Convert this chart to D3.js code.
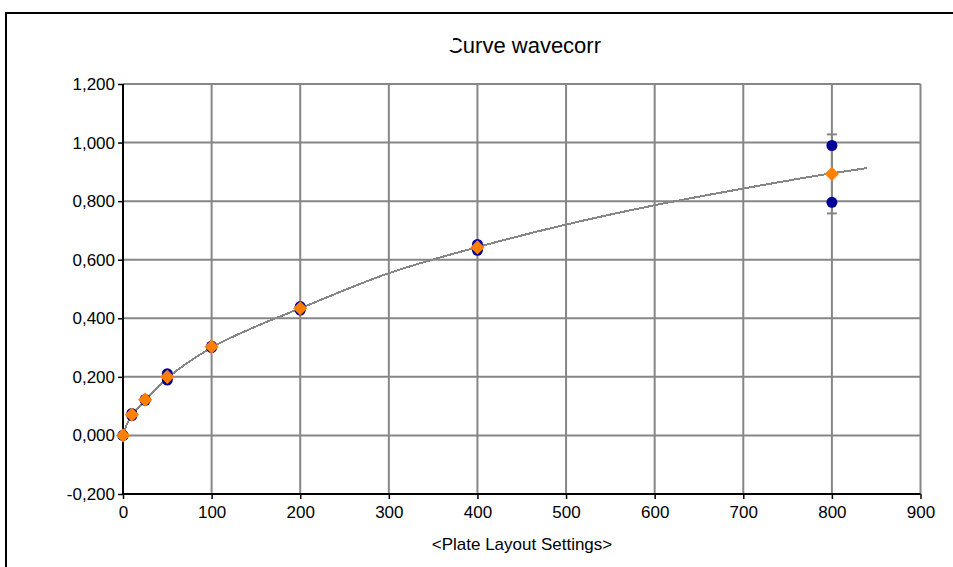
<!DOCTYPE html>
<html>
<head>
<meta charset="utf-8">
<script src="https://cdn.jsdelivr.net/npm/d3@7"></script>
<style>
  html, body { margin: 0; padding: 0; background: #fff; }
  text { font-family: "Liberation Sans", Arial, sans-serif; fill: #000; }
</style>
</head>
<body>
<div id="chart"></div>
<script>
// data
var concs = [0, 10, 25, 50, 100, 200, 400, 800];
var repA  = [0, 0.075, 0.123, 0.211, 0.305, 0.440, 0.652, 0.990];
var repB  = [0, 0.068, 0.120, 0.189, 0.300, 0.428, 0.632, 0.796];
var means = [0, 0.071, 0.122, 0.200, 0.303, 0.434, 0.642, 0.893];
var errs  = [0, 0.004, 0.002, 0.011, 0.003, 0.006, 0.010, 0.135];

var fitX = [0, 5, 10, 25, 50, 100, 150, 200, 300, 400, 500, 600, 700, 800, 840];
var fitY = [0, 0.042, 0.066, 0.120, 0.195, 0.300, 0.372, 0.434, 0.554, 0.643, 0.720, 0.786, 0.843, 0.895, 0.913];

var xTicks = [0, 100, 200, 300, 400, 500, 600, 700, 800, 900];
var yTicks = [-0.2, 0, 0.2, 0.4, 0.6, 0.8, 1.0, 1.2];

var W = 953, H = 567;
var svg = d3.select('#chart').append('svg')
  .attr('width', W).attr('height', H);

var x = d3.scaleLinear().domain([0, 900]).range([123, 920.5]);
var y = d3.scaleLinear().domain([-0.2, 1.2]).range([494, 84]);

// outer frame
svg.append('path')
  .attr('d', 'M6,' + (H + 5) + 'V13H' + (W + 5))
  .attr('fill', 'none').attr('stroke', '#000').attr('stroke-width', 2);

// gridlines
var grid = svg.append('g').attr('stroke', '#868686').attr('stroke-width', 2);
grid.selectAll('.gy').data(yTicks.slice(1)).enter().append('line')
  .attr('x1', x(0)).attr('x2', x(900))
  .attr('y1', function(d) { return y(d); }).attr('y2', function(d) { return y(d); });
grid.selectAll('.gx').data(xTicks.slice(1)).enter().append('line')
  .attr('y1', y(-0.2)).attr('y2', y(1.2))
  .attr('x1', function(d) { return x(d); }).attr('x2', function(d) { return x(d); });

// axes
var fmt = function(d) { return d3.format('.3f')(d).replace('.', ',').replace('\u2212', '-'); };
var yAxis = svg.append('g').attr('transform', 'translate(' + x(0) + ',0)')
  .call(d3.axisLeft(y).tickValues(yTicks).tickSize(5).tickPadding(3).tickFormat(fmt));
var xAxis = svg.append('g').attr('transform', 'translate(0,' + y(-0.2) + ')')
  .call(d3.axisBottom(x).tickValues(xTicks).tickSize(5).tickPadding(7).tickFormat(d3.format('d')));
[yAxis, xAxis].forEach(function(a) {
  a.select('.domain').attr('stroke', '#000').attr('stroke-width', 2);
  a.selectAll('.tick line').attr('stroke', '#000').attr('stroke-width', 1.5);
  a.selectAll('.tick text').style('font-size', '17px')
    .style('font-family', '"Liberation Sans", Arial, sans-serif').attr('fill', '#000');
});
xAxis.select('.domain').attr('d', 'M' + x(0) + ',0H' + x(900));
yAxis.select('.domain').attr('d', 'M0,' + y(1.2) + 'V' + y(-0.2));

// fitted curve
var line = d3.line()
  .x(function(d) { return x(d[0]); })
  .y(function(d) { return y(d[1]); })
  .curve(d3.curveMonotoneX);
svg.append('path')
  .datum(d3.zip(fitX, fitY))
  .attr('d', line)
  .attr('fill', 'none').attr('stroke', '#868686').attr('stroke-width', 2)
  .attr('shape-rendering', 'crispEdges');

// error bars
var eb = svg.append('g').attr('stroke', '#868686').attr('stroke-width', 2);
concs.forEach(function(c, i) {
  if (!errs[i]) return;
  var lo = y(means[i] - errs[i]), hi = y(means[i] + errs[i]), cx = x(c);
  eb.append('line').attr('x1', cx).attr('x2', cx).attr('y1', lo).attr('y2', hi);
  eb.append('line').attr('x1', cx - 5).attr('x2', cx + 5).attr('y1', lo).attr('y2', lo);
  eb.append('line').attr('x1', cx - 5).attr('x2', cx + 5).attr('y1', hi).attr('y2', hi);
});

// replicates
var reps = d3.zip(concs, repA).concat(d3.zip(concs, repB));
svg.selectAll('.rep').data(reps).enter().append('circle')
  .attr('cx', function(d) { return x(d[0]); })
  .attr('cy', function(d) { return y(d[1]); })
  .attr('r', 5.5).attr('fill', '#000099');

// means
svg.selectAll('.mean').data(d3.zip(concs, means)).enter().append('path')
  .attr('d', d3.symbol(d3.symbolDiamond2, 130))
  .attr('transform', function(d) { return 'translate(' + x(d[0]) + ',' + y(d[1]) + ')'; })
  .attr('fill', '#ff8000');

// titles
var title = svg.append('text').attr('x', 524).attr('y', 53)
  .attr('text-anchor', 'middle').style('font-size', '22px')
  .text('Curve wavecorr');
// left part of the "C" is cut off in the original
var tb = title.node().getBBox();
svg.append('rect').attr('x', tb.x - 2).attr('y', tb.y).attr('width', 8).attr('height', tb.height - 8)
  .attr('fill', '#fff');

svg.append('text').attr('x', 522).attr('y', 550)
  .attr('text-anchor', 'middle').style('font-size', '17px')
  .text('<Plate Layout Settings>');
</script>
</body>
</html>
